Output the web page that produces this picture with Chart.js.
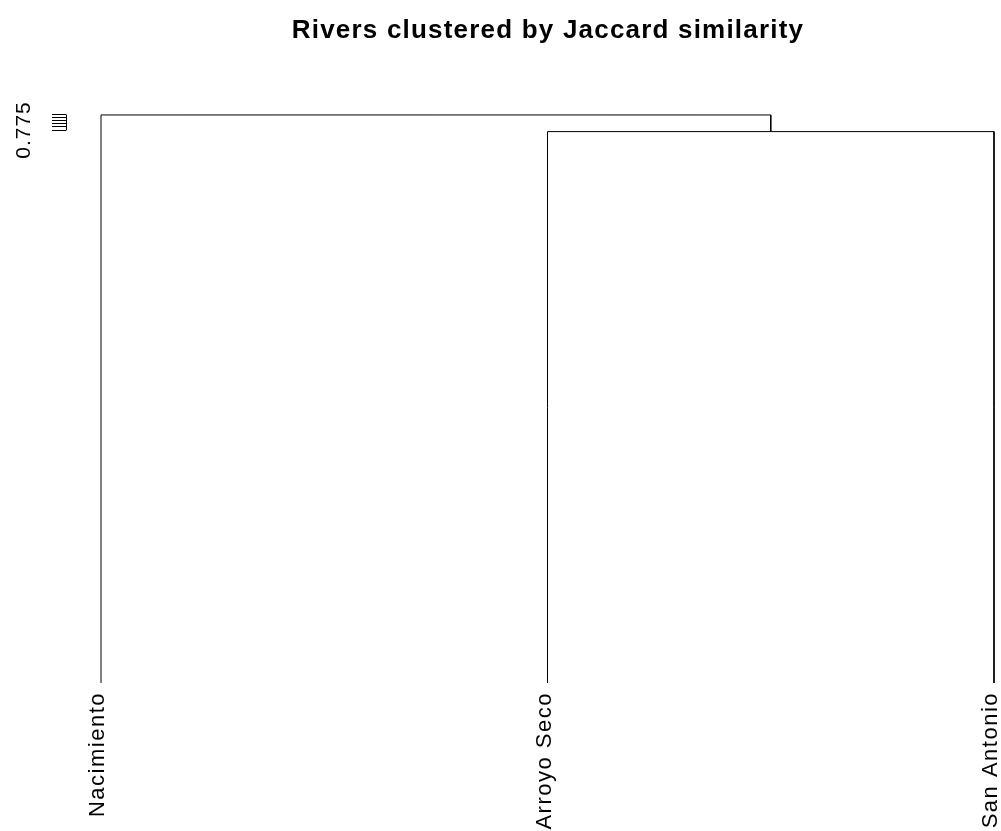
<!DOCTYPE html>
<html>
<head>
<meta charset="utf-8">
<title>Rivers clustered by Jaccard similarity</title>
<script src="https://cdn.jsdelivr.net/npm/chart.js@4/dist/chart.umd.min.js"></script>
<style>
    html, body { margin: 0; padding: 0; background: #fff; }
    #wrap { width: 1001px; height: 831px; position: relative; }
</style>
</head>
<body>
<div id="wrap"><canvas id="dendro"></canvas></div>
<script>
// Leaves in plot order and their x positions
const leaves = ['Nacimiento', 'Arroyo Seco', 'San Antonio'];
const leafPos = [1, 2, 3];

// Merge heights: first Arroyo Seco + San Antonio, then Nacimiento joins
const mergeHeights = [0.7745, 0.7797];
const leafHeight = 0.6022; // where the hanging leaves end

// y axis ticks as R drew them (only the first one is labelled)
const yTicks = [0.775, 0.776, 0.777, 0.778, 0.779, 0.780];
const yTickLabels = ['0.775', '', '', '', '', ''];

const chartTitle = 'Rivers clustered by Jaccard similarity';
const fontFamily = "'Liberation Sans', Arial, Helvetica, sans-serif";

// Build the dendrogram segments from the arrays above
const midAB = (leafPos[1] + leafPos[2]) / 2;
const segments = [
    [
        { x: leafPos[1], y: leafHeight },
        { x: leafPos[1], y: mergeHeights[0] },
        { x: leafPos[2], y: mergeHeights[0] },
        { x: leafPos[2], y: leafHeight }
    ],
    [
        { x: leafPos[0], y: leafHeight },
        { x: leafPos[0], y: mergeHeights[1] },
        { x: midAB, y: mergeHeights[1] },
        { x: midAB, y: mergeHeights[0] }
    ]
];

// Title and short y axis line + label, drawn through the scales
const rAxisPlugin = {
    id: 'rAxis',
    beforeDraw(chart) {
        // R's text comes out a bit wider than Liberation Sans
        chart.ctx.letterSpacing = '1.5px';
    },
    afterDraw(chart) {
        const ctx = chart.ctx;
        const y = chart.scales.y;
        const x0 = chart.chartArea.left + 0.5;

        ctx.save();
        ctx.strokeStyle = '#000';
        ctx.lineWidth = 1;
        ctx.beginPath();
        ctx.moveTo(x0, Math.round(y.getPixelForValue(yTicks[0])) + 0.5);
        ctx.lineTo(x0, Math.round(y.getPixelForValue(yTicks[yTicks.length - 1])) + 0.5);
        ctx.stroke();

        ctx.fillStyle = '#000';
        ctx.font = '21px ' + fontFamily;
        ctx.letterSpacing = '1px';
        ctx.textAlign = 'center';
        ctx.textBaseline = 'alphabetic';
        yTicks.forEach((v, i) => {
            if (!yTickLabels[i]) return;
            ctx.save();
            ctx.translate(30, y.getPixelForValue(v));
            ctx.rotate(-Math.PI / 2);
            ctx.fillText(yTickLabels[i], 0, 0);
            ctx.restore();
        });

        ctx.font = 'bold 26px ' + fontFamily;
        ctx.letterSpacing = '1.2px';
        ctx.textAlign = 'center';
        ctx.fillText(chartTitle, 548, 38);
        ctx.restore();
    }
};

new Chart(document.getElementById('dendro'), {
    type: 'scatter',
    data: {
        datasets: segments.map(seg => ({
            data: seg,
            showLine: true,
            borderColor: '#000',
            borderWidth: 1,
            pointRadius: 0,
            pointHoverRadius: 0,
            fill: false,
            tension: 0,
            clip: false
        }))
    },
    options: {
        responsive: true,
        maintainAspectRatio: false,
        animation: false,
        events: [],
        layout: { padding: { top: 114, right: 7, left: 0, bottom: 0 } },
        plugins: {
            legend: { display: false },
            tooltip: { enabled: false },
            title: { display: false }
        },
        scales: {
            x: {
                type: 'linear',
                position: 'bottom',
                min: 0.9216,
                max: 3,
                grid: { display: false, drawTicks: false },
                border: { display: false },
                afterBuildTicks: (s) => { s.ticks = leafPos.map(v => ({ value: v })); },
                afterFit: (s) => { s.height = 148; s.paddingLeft = 0; s.paddingRight = 0; },
                ticks: {
                    autoSkip: false,
                    minRotation: 90,
                    maxRotation: 90,
                    padding: 9,
                    labelOffset: -3,
                    color: '#000',
                    font: { family: fontFamily, size: 22 },
                    callback: (v) => {
                        const i = leafPos.indexOf(v);
                        return i >= 0 ? leaves[i] : '';
                    }
                }
            },
            y: {
                type: 'linear',
                position: 'left',
                min: 0.6022,
                max: 0.780,
                grid: {
                    drawOnChartArea: false,
                    drawTicks: true,
                    tickLength: 14,
                    color: '#000',
                    lineWidth: 1
                },
                border: { display: false },
                afterBuildTicks: (s) => { s.ticks = yTicks.map(v => ({ value: v })); },
                afterFit: (s) => { s.width = 66; s.paddingTop = 0; s.paddingBottom = 0; },
                ticks: { display: false }
            }
        }
    },
    plugins: [rAxisPlugin]
});
</script>
</body>
</html>
